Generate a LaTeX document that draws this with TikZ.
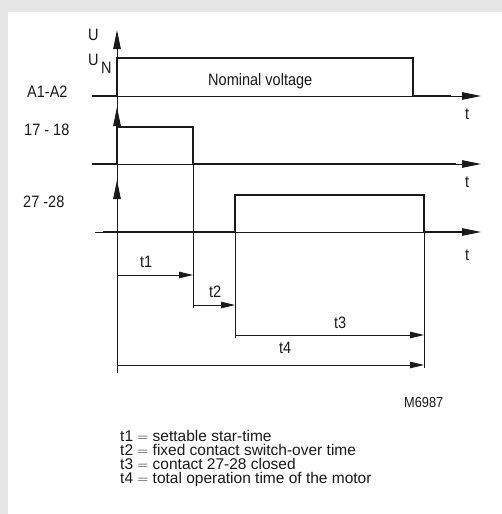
\documentclass[tikz,border=0pt]{standalone}
\usepackage{fontspec}
\setmainfont[FakeStretch=0.88]{Liberation Sans}
\newfontfamily\legfont{Liberation Sans}
\newcommand\tightlines{\lineskiplimit=-30pt\relax}
\usetikzlibrary{arrows.meta}
\definecolor{bggray}{HTML}{E6E6E6}
\definecolor{ink}{HTML}{1A1A1A}
\tikzset{
  thin line/.style={draw=ink, line width=0.9pt},
  thick line/.style={draw=ink, line width=2.4pt, line join=miter},
  axis arrow/.style={thin line, -{Triangle[length=19pt,width=7.5pt]}},
  time arrow/.style={thin line, -{Triangle[length=14pt,width=6.5pt]}},
  lbl/.style={inner sep=0pt, anchor=base west, text=ink, font=\fontsize{16.5}{18}\selectfont},
  legend/.style={inner sep=0pt, anchor=base west, text=ink, align=left,
    font=\legfont\fontsize{15.5}{13.7}\selectfont\tightlines},
}
\begin{document}
\begin{tikzpicture}[x=1pt, y=-1pt]
\useasboundingbox (0,0) rectangle (502,514);
\fill[bggray] (0,0) rectangle (502,514);
\fill[white] (8,12) rectangle (502,514);

% coordinates
\coordinate (O) at (117,373);
\coordinate (Utop) at (117,30);
\coordinate (A0) at (92,96);
\coordinate (Aend) at (481,96);
\coordinate (B0) at (92,164);
\coordinate (Bend) at (481,164);
\coordinate (Btip) at (117,107);
\coordinate (C0) at (95,232);
\coordinate (Cend) at (481,232);
\coordinate (Ctip) at (117,180);

% vertical axis
\draw[axis arrow] (O) -- (Utop);
\draw[axis arrow] (117,164) -- (Btip);
\draw[axis arrow] (117,232) -- (Ctip);

% horizontal axes
\draw[axis arrow] (A0) -- (Aend);
\draw[axis arrow] (B0) -- (Bend);
\draw[axis arrow] (C0) -- (Cend);

% signals
\draw[thick line] (A0) -- (117,96) -- (117,58) -- (413,58) -- (413,96) -- (451,96);
\draw[thick line] (B0) -- (117,164) -- (117,127) -- (193,127) -- (193,164) -- (456,164);
\draw[thick line] (103,232) -- (235,232) -- (235,195) -- (424,195) -- (424,232) -- (463,232);

% vertical markers
\draw[thin line] (193,164) -- (193,308);
\draw[thin line] (235,232) -- (235,338);
\draw[thin line] (424,232) -- (424,368);

% time arrows
\coordinate (t1a) at (117,275); \coordinate (t1b) at (193,275);
\coordinate (t2a) at (193,305); \coordinate (t2b) at (235,305);
\coordinate (t3a) at (235,335); \coordinate (t3b) at (424,335);
\coordinate (t4a) at (117,365); \coordinate (t4b) at (424,365);
\draw[time arrow] (t1a) -- (t1b);
\draw[time arrow] (t2a) -- (t2b);
\draw[time arrow] (t3a) -- (t3b);
\draw[time arrow] (t4a) -- (t4b);

% labels
\node[lbl] (lU) at (88,40) {U};
\node[lbl] (lUN) at (88,65) {U};
\node[lbl] (lN) at (101,73) {N};
\node[lbl] (lA) at (27,97) {A1-A2};
\node[lbl] (lB) at (24,135) {17 - 18};
\node[lbl] (lC) at (23,207) {27 -28};
\node[lbl] (nom) at (208,85) {Nominal voltage};
\node[lbl] (ta) at (465,119) {t};
\node[lbl] (tb) at (465,187) {t};
\node[lbl] (tc) at (465,260) {t};
\node[lbl] (l1) at (140,267) {t1};
\node[lbl] (l2) at (209,297) {t2};
\node[lbl] (l3) at (334,328) {t3};
\node[lbl] (l4) at (279,353) {t4};
\node[inner sep=0pt, anchor=base west, text=ink, font=\fontsize{14.5}{15}\selectfont] (mark) at (404,407) {M6987};
\node[legend] (leg) at (120,483) {t1 $=$ settable star-time\\t2 $=$ fixed contact switch-over time\\t3 $=$ contact 27-28 closed\\t4 $=$ total operation time of the motor};
\end{tikzpicture}
\end{document}
